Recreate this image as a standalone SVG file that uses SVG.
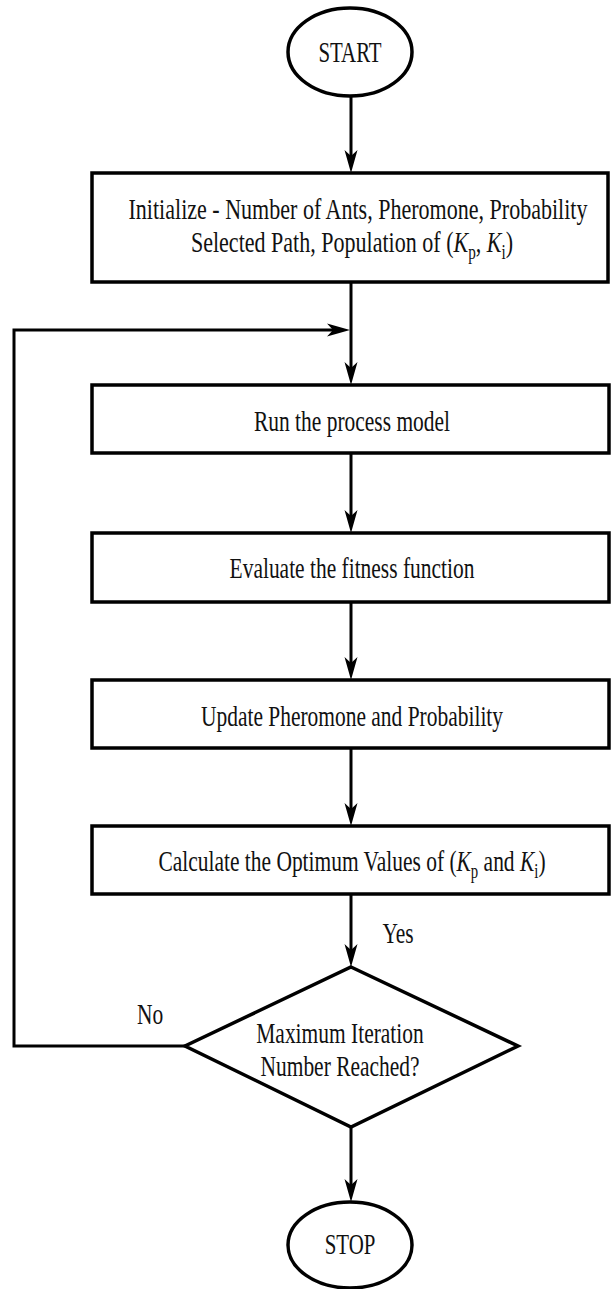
<svg xmlns="http://www.w3.org/2000/svg" width="612" height="1289" viewBox="0 0 612 1289">
<style>
.shape{fill:#fff;stroke:#000;stroke-width:3.5}
.conn{fill:none;stroke:#000;stroke-width:3}
.t{font-family:"Liberation Serif","Times New Roman",serif;font-size:29px;fill:#111;text-anchor:middle}
.sub{font-size:20px}
.it{font-style:italic}
</style>
<defs>
<marker id="arr" markerUnits="userSpaceOnUse" viewBox="-12 -8 26 16" markerWidth="26" markerHeight="16" refX="0" refY="0" orient="auto">
<path d="M12,0 L-11,-6.5 L-5,0 L-11,6.5 Z" fill="#000"/>
</marker>
</defs>
<rect width="612" height="1289" fill="#fff"/>
<g id="connectors">
<path class="conn" d="M351,97 V161" marker-end="url(#arr)"/>
<path class="conn" d="M351,282 V373" marker-end="url(#arr)"/>
<path class="conn" d="M185,1046 H14 V330 H338" marker-end="url(#arr)"/>
<path class="conn" d="M351,453 V521" marker-end="url(#arr)"/>
<path class="conn" d="M351,602 V668" marker-end="url(#arr)"/>
<path class="conn" d="M351,748 V814" marker-end="url(#arr)"/>
<path class="conn" d="M351,894 V955" marker-end="url(#arr)"/>
<path class="conn" d="M351,1127 V1190" marker-end="url(#arr)"/>
</g>
<g id="start">
<ellipse class="shape" cx="350" cy="52" rx="62" ry="44"/>
<text class="t" transform="translate(350 0) scale(0.72 1)" x="0" y="62">START</text>
</g>
<g id="init">
<rect class="shape" x="92" y="173" width="516" height="109"/>
<text class="t" transform="translate(358 0) scale(0.76 1)" x="0" y="219">Initialize - Number of Ants, Pheromone, Probability</text>
<text class="t" transform="translate(352 0) scale(0.76 1)" x="0" y="252">Selected Path, Population of (<tspan class="it">K</tspan><tspan class="sub" dy="7">p</tspan><tspan dy="-7">, </tspan><tspan class="it">K</tspan><tspan class="sub" dy="7">i</tspan><tspan dy="-7">)</tspan></text>
</g>
<g id="run">
<rect class="shape" x="92" y="385" width="517" height="68"/>
<text class="t" transform="translate(352 0) scale(0.74 1)" x="0" y="431">Run the process model</text>
</g>
<g id="evaluate">
<rect class="shape" x="92" y="533" width="517" height="69"/>
<text class="t" transform="translate(352 0) scale(0.74 1)" x="0" y="578">Evaluate the fitness function</text>
</g>
<g id="update">
<rect class="shape" x="92" y="680" width="517" height="68"/>
<text class="t" transform="translate(352 0) scale(0.74 1)" x="0" y="726">Update Pheromone and Probability</text>
</g>
<g id="calculate">
<rect class="shape" x="92" y="826" width="517" height="68"/>
<text class="t" transform="translate(352 0) scale(0.74 1)" x="0" y="871">Calculate the Optimum Values of (<tspan class="it">K</tspan><tspan class="sub" dy="7">p</tspan><tspan dy="-7"> and </tspan><tspan class="it">K</tspan><tspan class="sub" dy="7">i</tspan><tspan dy="-7">)</tspan></text>
</g>
<g id="decision">
<polygon class="shape" points="351,967 518,1046 351,1127 185,1046"/>
<text class="t" transform="translate(340 0) scale(0.74 1)" x="0" y="1043">Maximum Iteration</text>
<text class="t" transform="translate(340 0) scale(0.74 1)" x="0" y="1076">Number Reached?</text>
</g>
<g id="stop">
<ellipse class="shape" cx="350" cy="1245" rx="62" ry="43"/>
<text class="t" transform="translate(350 0) scale(0.72 1)" x="0" y="1254">STOP</text>
</g>
<g id="labels">
<text class="t" transform="translate(150 0) scale(0.74 1)" x="0" y="1024">No</text>
<text class="t" transform="translate(398 0) scale(0.74 1)" x="0" y="943">Yes</text>
</g>
</svg>
